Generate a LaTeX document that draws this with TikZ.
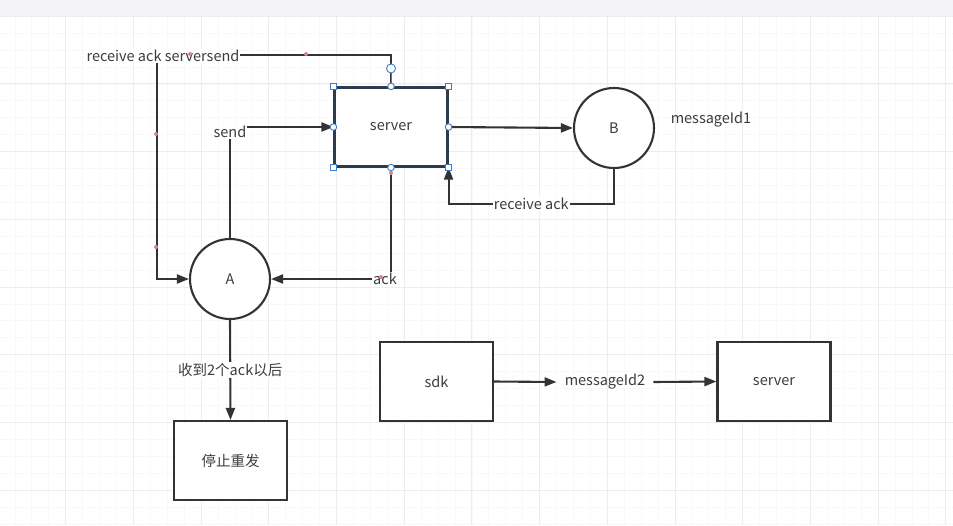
\documentclass[tikz,border=0pt]{standalone}
\usepackage{fontspec}
\setmainfont{Noto Sans CJK SC}
\usetikzlibrary{arrows.meta,calc}
\tikzset{>={Triangle[length=12pt,width=9pt]}}
\definecolor{LineDark}{HTML}{333333}
\definecolor{SelLine}{HTML}{2E3A4E}
\definecolor{TextGrey}{HTML}{3C3C3C}
\definecolor{HandleBlue}{HTML}{3B7DC9}
\definecolor{GridMajor}{HTML}{EEEBF1}
\definecolor{GridMinor}{HTML}{F8F7F9}
\definecolor{BarGrey}{HTML}{F3F2F5}
\definecolor{PinkDot}{HTML}{D9868C}
\tikzset{
  Box/.style={draw=LineDark, line width=2.1pt, fill=white,
    minimum width=113pt, minimum height=79pt, inner sep=0pt, text=TextGrey},
  Round/.style={circle, draw=LineDark, line width=2.1pt, fill=white,
    minimum size=80pt, inner sep=0pt, text=TextGrey},
  Conn/.style={draw=LineDark, line width=2.1pt, ->},
  Lbl/.style={fill=white, inner sep=1pt, text=TextGrey},
  HandleSq/.style={fill=white, draw=HandleBlue, line width=0.9pt}
}

\begin{document}
\begin{tikzpicture}[x=1pt, y=-1pt, font=\fontsize{14.5}{17}\selectfont]
    \path[use as bounding box] (0,0) rectangle (953,525);
    % canvas
    \fill[white] (0,16) rectangle (953,525);
    \foreach \i in {-3,...,52}
        \draw[GridMinor, line width=0.8pt] ({65.7+16.925*\i},16) -- ++(0,509);
    \foreach \j in {-12,...,18}
        \draw[GridMinor, line width=0.8pt] (0,{219.3+16.925*\j}) -- ++(953,0);
    \foreach \i in {-1,...,13}
        \draw[GridMajor, line width=0.9pt] ({65.7+67.7*\i},16) -- ++(0,509);
    \foreach \j in {-3,...,4}
        \draw[GridMajor, line width=0.9pt] (0,{219.3+67.7*\j}) -- ++(953,0);
    \fill[BarGrey] (0,0) rectangle (953,16);
    \draw[GridMajor, line width=0.8pt] (0,16) -- (953,16);

    % shapes
    \node[Box, draw=SelLine] (srv) at (391,127) {server};
    \node[Round] (B) at (614,128) {B};
    \node[Round] (A) at (230,279) {A};
    \node[Box] (stop) at (230.5,460.5) {停止重发};
    \node[Box] (sdk) at (436.5,381.5) {sdk};
    \node[Box] (srvTwo) at (774,381.5) {server};
    \node[text=TextGrey] (msgOne) at (711,120) {messageId1};
    \node[text=TextGrey, inner xsep=8pt] (msgTwo) at (605,382) {messageId2};
    \coordinate (rsTurn) at (157,55);

    % connectors
    \draw[Conn] (A.north) |- node[Lbl, pos=0.5, yshift=-5pt]{send} (srv.west);
    \draw[Conn] (srv.south) |- node[Lbl, pos=0.5, xshift=-6pt]{ack} (A.east);
    \draw[Conn] (srv.north) |- (rsTurn) node[Lbl, xshift=6pt, yshift=-1pt]{receive ack serversend} |- (A.west);
    \draw[Conn] (srv.east) -- (B.west);
    \draw[Conn] (B.south) -- ++(0,35) -| node[Lbl, pos=0.25]{receive ack} (srv.south east);
    \draw[Conn] (A.south) -- node[Lbl]{收到2个ack以后} (stop.north);
    \draw[Conn] (sdk.east) -- (msgTwo.west);
    \draw[Conn] (msgTwo.east) -- (srvTwo.west);

    % selection handles
    \draw[HandleBlue, line width=0.9pt] (srv.north) -- ++(0,-14);
    \filldraw[HandleSq] (srv.north) ++(0,-18) circle (4.5pt);
    \foreach \a in {north west, north east, south west, south east}
        \filldraw[HandleSq] ($(srv.\a)+(-3.3,-3.3)$) rectangle ++(6.6,6.6);
    \foreach \a in {north, south, east, west}
        \filldraw[HandleSq] (srv.\a) circle (3.3pt);

    % waypoint dots
    \foreach \p in {(190,54), (306,54), (156,134), (156,247), (391,173), (381,277)}
        \fill[PinkDot] \p circle (2pt);
\end{tikzpicture}
\end{document}
